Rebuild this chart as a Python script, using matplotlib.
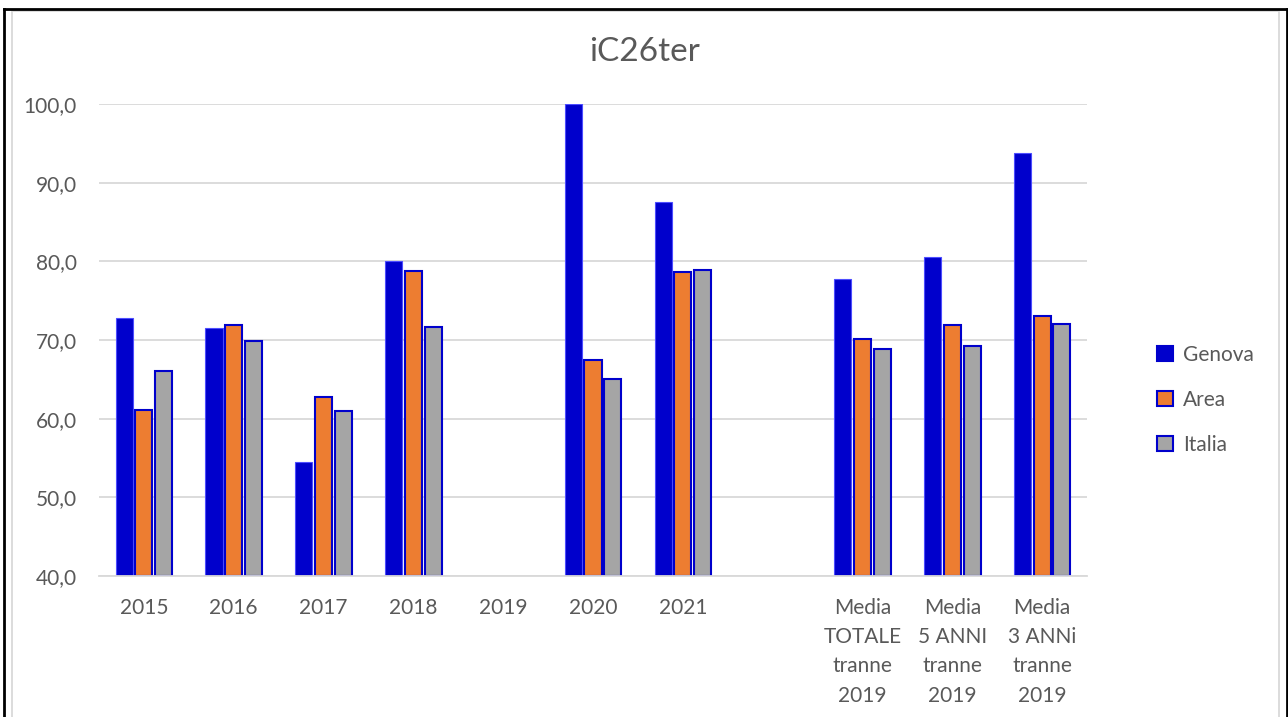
import numpy as np
from matplotlib import pyplot as plt, patches
from matplotlib.lines import Line2D

plt.rcParams["font.family"] = ["Lato", "DejaVu Sans"]

# Categories (empty slot separates the yearly values from the averages)
categories = ["2015", "2016", "2017", "2018", "2019", "2020", "2021", "",
              "Media\nTOTALE\ntranne\n2019", "Media\n5 ANNI\ntranne\n2019",
              "Media\n3 ANNi\ntranne\n2019"]

genova = [72.8, 71.5, 54.5, 80.1, np.nan, 100.0, 87.5, np.nan, 77.7, 80.6, 93.8]
area = [61.1, 71.9, 62.7, 78.8, np.nan, 67.4, 78.6, np.nan, 70.1, 71.9, 73.0]
italia = [66.0, 69.9, 61.0, 71.7, np.nan, 65.1, 78.9, np.nan, 68.8, 69.2, 72.0]

series = [("Genova", genova, "#0000CC"),
          ("Area", area, "#ED7D31"),
          ("Italia", italia, "#A5A5A5")]

TEXT = "#595959"
EDGE = "#0000CC"

fig = plt.figure(figsize=(12.88, 7.17), dpi=100)
ax = fig.add_axes([99 / 1288, 1 - 576 / 717, (1087 - 99) / 1288, (576 - 104) / 717])

x = np.arange(len(categories))
width = 0.19
offsets = [-0.22, 0.0, 0.22]

for (name, vals, color), off in zip(series, offsets):
    vals = np.array(vals, dtype=float)
    heights = vals - 40
    edge = "#4d4dff" if name == "Genova" else EDGE
    lw = 0.8 if name == "Genova" else 1.5
    ax.bar(x + off, heights, width, bottom=40, color=color,
           edgecolor=edge, linewidth=lw, label=name, zorder=3)

ax.set_xlim(-0.5, len(categories) - 0.5)
ax.set_ylim(40, 100)
ax.set_yticks(np.arange(40, 101, 10))
ax.set_yticklabels([f"{v:.1f}".replace(".", ",") for v in np.arange(40, 101, 10)])
ax.set_xticks(x)
ax.set_xticklabels(categories, linespacing=1.57, va="top")

ax.grid(axis="y", color="#d9d9d9", linewidth=1.3, zorder=0)
for side in ["top", "right", "left"]:
    ax.spines[side].set_visible(False)
ax.spines["bottom"].set_color("#d9d9d9")
ax.spines["bottom"].set_linewidth(1.3)
ax.spines["bottom"].set_zorder(4)
ax.tick_params(axis="both", length=0, labelsize=15, colors=TEXT)
ax.tick_params(axis="y", pad=16)
ax.tick_params(axis="x", pad=16)
ax.set_axisbelow(True)

fig.text(645 / 1288, 1 - 52 / 717, "iC26ter", ha="center", va="center",
         fontsize=24, color=TEXT)

# Legend, placed to the right of the plot area
handles = [patches.Patch(facecolor=c, edgecolor=(EDGE if n != "Genova" else c),
                         linewidth=1.5, label=n) for n, _, c in series]
fig.legend(handles=handles, loc="center left",
           bbox_to_anchor=(1157 / 1288, 1 - 400 / 717), frameon=False,
           borderpad=0, borderaxespad=0,
           fontsize=15, labelcolor=TEXT, handlelength=0.75, handleheight=0.75,
           handletextpad=0.5, labelspacing=1.2)

# Chart border and outer frame
fig.add_artist(patches.Rectangle((12.5 / 1288, -0.05), (1278.5 - 12.5) / 1288,
                                 1 - 10.5 / 717 + 0.05, transform=fig.transFigure,
                                 fill=False, edgecolor="#d9d9d9", linewidth=1.3))
fig.add_artist(Line2D([4 / 1288, 4 / 1288], [0, 1 - 8.5 / 717], transform=fig.transFigure,
                      color="black", linewidth=2))
fig.add_artist(Line2D([4 / 1288, 1286.5 / 1288], [1 - 8.5 / 717, 1 - 8.5 / 717],
                      transform=fig.transFigure, color="black", linewidth=2))
fig.add_artist(Line2D([1286.5 / 1288, 1286.5 / 1288], [0, 1 - 8.5 / 717],
                      transform=fig.transFigure, color="black", linewidth=2))

fig.savefig("out.png", dpi=100)
